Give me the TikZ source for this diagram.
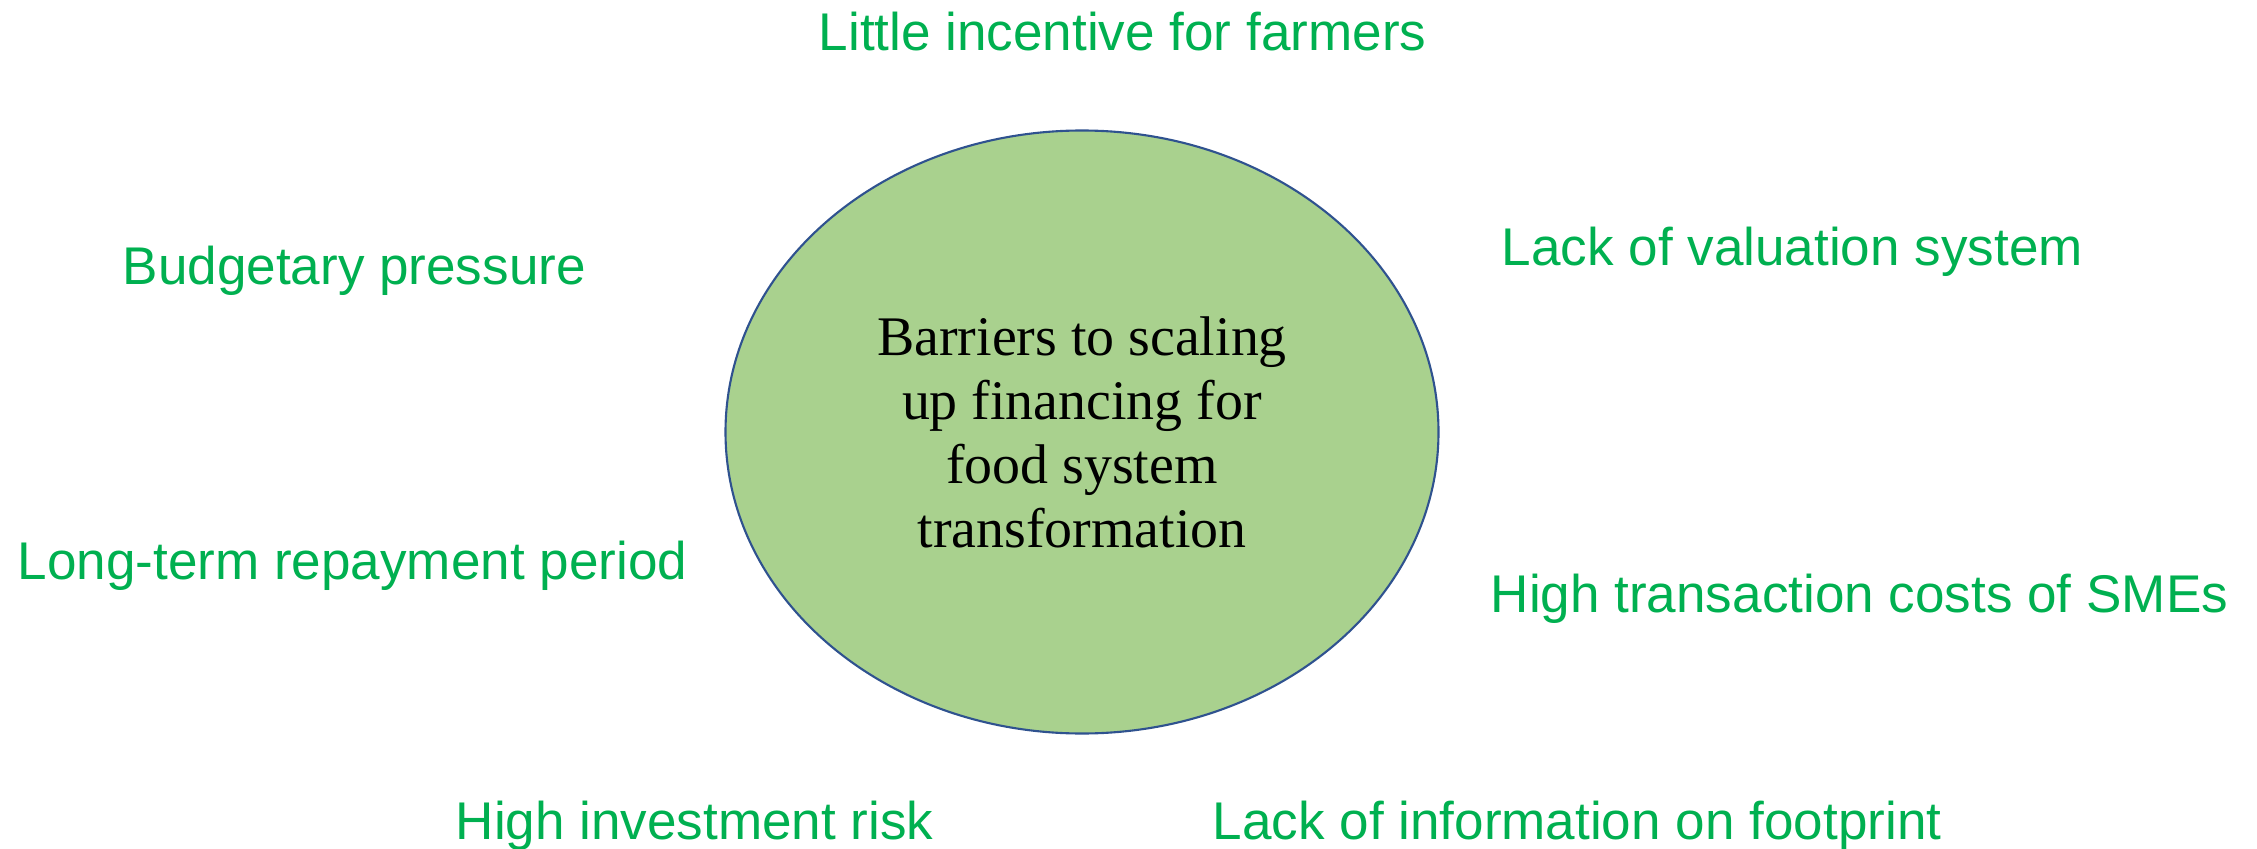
\documentclass[tikz,border=0pt]{standalone}
\usepackage{fontspec}
\setmainfont{Liberation Serif}
\newfontfamily\barfont{Liberation Sans}
\usepackage{tikz}
\usetikzlibrary{shapes,
                positioning}

\definecolor{barriergreen}{HTML}{00B050}
\definecolor{corefill}{HTML}{A9D18E}
\definecolor{coreline}{HTML}{2F528F}

\tikzset{
    barrier/.style={anchor=base west, inner sep=0pt, text=barriergreen,
                    font=\barfont\fontsize{15.1}{18}\selectfont},
    core/.style={ellipse, draw=coreline, line width=0.6pt, fill=corefill,
                 minimum width=7.13cm, minimum height=6.03cm, inner sep=0pt,
                 align=center, font=\fontsize{15.9}{18.2}\selectfont}
}

\begin{document}
\begin{tikzpicture}[scale=1]
    \useasboundingbox (0,0) rectangle (22.57,8.48);

    \node[core] (core) at (10.82,4.16) {Barriers to scaling\\up financing for\\food system\\transformation};

    \node[barrier] (farmers) at (8.18,7.97) {Little incentive for farmers};
    \node[barrier] (budget) at (1.22,5.64) {Budgetary pressure};
    \node[barrier] (valuation) at (15.01,5.82) {Lack of valuation system};
    \node[barrier] (repay) at (0.17,2.69) {Long-term repayment period};
    \node[barrier] (sme) at (14.90,2.36) {High transaction costs of SMEs};
    \node[barrier] (risk) at (4.55,0.09) {High investment risk};
    \node[barrier] (footprint) at (12.12,0.09) {Lack of information on footprint};

\end{tikzpicture}
\end{document}
